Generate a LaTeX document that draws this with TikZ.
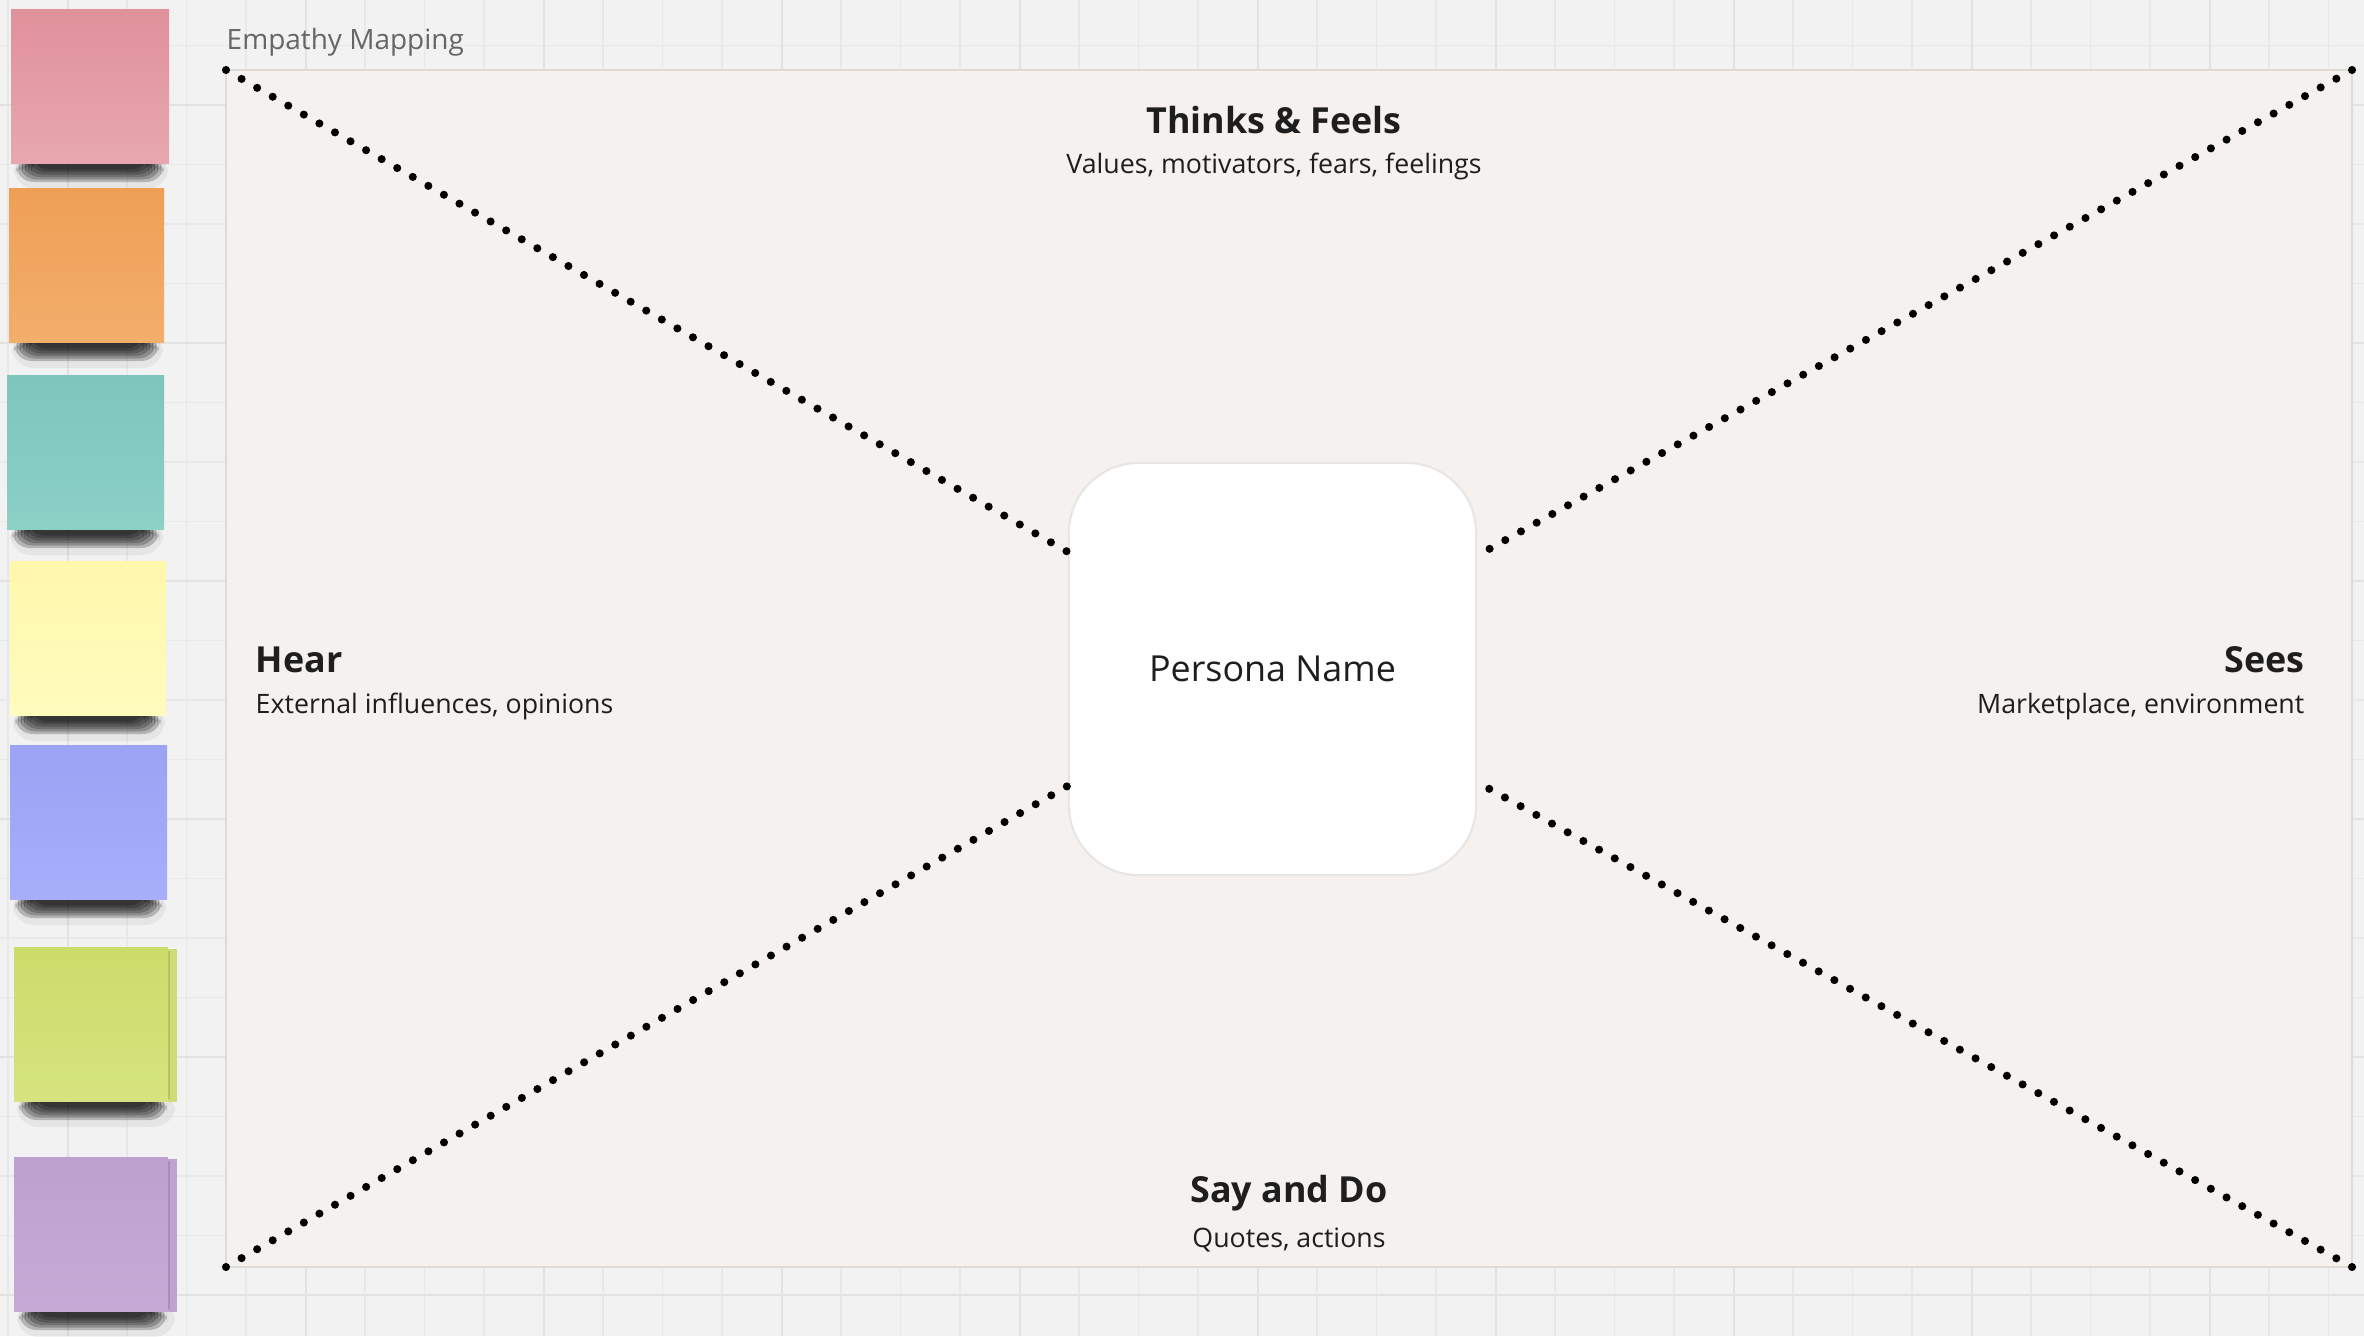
\documentclass[tikz,border=0pt]{standalone}
\usepackage{fontspec}
\setmainfont{Open Sans}

\definecolor{canvas}{HTML}{F2F2F2}
\definecolor{gridminor}{HTML}{E8E8E8}
\definecolor{gridmajor}{HTML}{E2E2E2}
\definecolor{boardfill}{HTML}{F4F1EE}
\definecolor{boardline}{HTML}{DEDAD6}
\definecolor{personaline}{HTML}{E8E6E4}
\definecolor{inkdark}{HTML}{1E1E1E}
\definecolor{titlegrey}{HTML}{666666}

\definecolor{pinktop}{HTML}{E0919B}    \definecolor{pinkbot}{HTML}{E8A7AE}
\definecolor{orangetop}{HTML}{EE9F55}  \definecolor{orangebot}{HTML}{F3AE6C}
\definecolor{tealtop}{HTML}{7EC5BC}    \definecolor{tealbot}{HTML}{8CD0C6}
\definecolor{yellowtop}{HTML}{FFF7AC}  \definecolor{yellowbot}{HTML}{FFFBBD}
\definecolor{bluetop}{HTML}{9AA3F4}    \definecolor{bluebot}{HTML}{A7AEFA}
\definecolor{greentop}{HTML}{CBDC6A}   \definecolor{greenbot}{HTML}{D5E47E}
\definecolor{purpletop}{HTML}{BEA0CF}  \definecolor{purplebot}{HTML}{C5AAD6}

\begin{document}
\begin{tikzpicture}[x=0.01cm, y=-0.01cm,
  gridline/.style={draw=gridminor, line width=0.45pt},
  gridbold/.style={draw=gridmajor, line width=0.6pt},
  board/.style={fill=boardfill, draw=boardline, line width=0.6pt},
  dotline/.style={line width=2.3pt, line cap=round, dash pattern=on 0pt off 5.1pt},
  persona/.style={fill=white, draw=personaline, line width=0.6pt, rounded corners=19.9pt,
                  minimum width=4.07cm, minimum height=4.12cm, inner sep=0pt,
                  font=\fontsize{10.2pt}{12pt}\selectfont, text=inkdark},
  head/.style={font=\fontsize{10.2pt}{12pt}\selectfont\bfseries, text=inkdark, inner sep=0pt},
  sub/.style={font=\fontsize{7.6pt}{9pt}\selectfont, text=inkdark, inner sep=0pt},
  noteshadow/.style={black, opacity=0.21, rounded corners=5pt}]

\useasboundingbox (0,0) rectangle (2364,1336);
\fill[canvas] (0,0) rectangle (2364,1336);

% canvas grid
\foreach \k in {0,...,39}
  \draw[gridline] (8.1+59.5*\k, 0) -- (8.1+59.5*\k, 1336);
\foreach \k in {0,...,21}
  \draw[gridline] (0, 45.5+59.5*\k) -- (2364, 45.5+59.5*\k);
\foreach \k in {1,5,...,37}
  \draw[gridbold] (8.1+59.5*\k, 0) -- (8.1+59.5*\k, 1336);
\foreach \k in {1,5,...,21}
  \draw[gridbold] (0, 45.5+59.5*\k) -- (2364, 45.5+59.5*\k);

% sticky notes: left, top, width, colour
\foreach \nx/\ny/\nw/\nc in {11/9/158/pink, 9/188/155/orange, 7/375/157/teal,
                             10/561/156/yellow, 10/745/157/blue}{
  \fill[black, opacity=0.05, rounded corners=6pt] (\nx+3, \ny+144) rectangle (\nx+\nw-1, \ny+180);
  \foreach \i in {0,...,5}
    \fill[noteshadow] (\nx+5+3*\i, \ny+148) rectangle (\nx+\nw-5-3*\i, \ny+173-2.5*\i);
  \shade[top color=\nc top, bottom color=\nc bot] (\nx, \ny) rectangle (\nx+\nw, \ny+154);
}
\foreach \nx/\ny/\nc in {14/947/green, 14/1157/purple}{
  \fill[black, opacity=0.05, rounded corners=6pt] (\nx+3, \ny+144) rectangle (\nx+161, \ny+180);
  \foreach \i in {0,...,5}
    \fill[noteshadow] (\nx+5+3*\i, \ny+148) rectangle (\nx+153-3*\i, \ny+173-2.5*\i);
  \fill[\nc bot!96!black] (\nx+150, \ny+2) rectangle (\nx+163, \ny+155);
  \fill[\nc top!88!black] (\nx+153, \ny+4) rectangle (\nx+156, \ny+152);
  \shade[top color=\nc top, bottom color=\nc bot] (\nx, \ny) rectangle (\nx+154, \ny+154);
}

% board
\draw[board] (226,70) rectangle (2352,1267);
\coordinate (tl) at (226,70);
\coordinate (tr) at (2352,70);
\coordinate (bl) at (226,1267);
\coordinate (br) at (2352,1267);

\node[anchor=base west, inner sep=0pt, text=titlegrey, font=\fontsize{7.95pt}{10pt}\selectfont]
  (title) at (226,49) {Empathy Mapping};

\node[persona] (name) at (1272.5,669) {Persona Name};

\draw[dotline] (tl) -- (name);
\draw[dotline] (tr) -- (name);
\draw[dotline] (bl) -- (name);
\draw[dotline] (br) -- (name);

\node[head, anchor=base] (thinks) at (1274,133) {Thinks \& Feels};
\node[sub, anchor=base] (thinkssub) at (1274,173) {Values, motivators, fears, feelings};

\node[head, anchor=base west] (hear) at (255,672) {Hear};
\node[sub, anchor=base west] (hearsub) at (255,713) {External influences, opinions};

\node[head, anchor=base east] (sees) at (2305,672) {Sees};
\node[sub, anchor=base east] (seessub) at (2305,713) {Marketplace, environment};

\node[head, anchor=base] (say) at (1289,1202) {Say and Do};
\node[sub, anchor=base] (saysub) at (1289,1247) {Quotes, actions};
\end{tikzpicture}
\end{document}
